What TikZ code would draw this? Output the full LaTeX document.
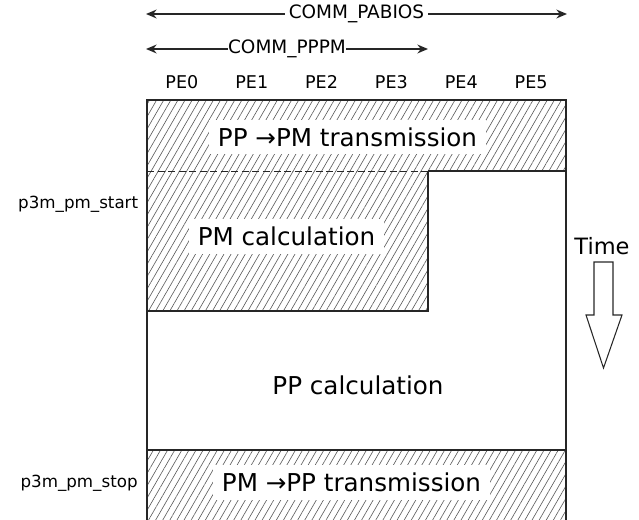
\documentclass[tikz,border=0pt]{standalone}
\usepackage{fontspec}
\setmainfont{DejaVu Sans}
\usetikzlibrary{arrows.meta, patterns.meta}

\begin{document}
\begin{tikzpicture}[
  font=\fontsize{14}{16}\selectfont,
  hatch/.style={
    pattern={Lines[angle=60, distance=3.5pt, line width=0.35pt]},
    pattern color=black!65
  },
  frame/.style={draw=black!85, line width=0.6pt},
  phase/.style={
    fill=white, inner xsep=5pt, inner ysep=4.5pt,
    font=\fontsize{14}{16}\selectfont
  },
  pelabel/.style={font=\fontsize{10}{12}\selectfont},
  commlabel/.style={fill=white, inner xsep=2pt, font=\fontsize{10.5}{12}\selectfont},
  comm/.style={
    arrows={Stealth[length=6pt, width=5pt]-Stealth[length=6pt, width=5pt]},
    line width=1.1pt, draw=black!85
  },
  marker/.style={font=\fontsize{9.5}{11}\selectfont, anchor=east, inner sep=0pt},
]

\useasboundingbox (0,0) rectangle (12.78,10.38);

% hatched phases and the PE frame
\begin{scope}
  \clip (0,0) rectangle (12.78,10.38);
  \fill[hatch] (2.94,6.96) rectangle (11.32,8.38);
  \fill[hatch] (2.94,4.16) rectangle (8.56,6.96);
  \fill[hatch] (2.94,-0.5) rectangle (11.32,1.38);
  \draw[frame] (2.94,-0.5) -- (2.94,8.38) -- (11.32,8.38) -- (11.32,-0.5);
  \draw[frame] (8.56,6.96) -- (11.32,6.96);
  \draw[frame] (8.56,6.96) -- (8.56,4.16) -- (2.94,4.16);
  \draw[frame] (2.94,1.38) -- (11.32,1.38);
  \draw[frame, line width=0.5pt, dash pattern=on 4pt off 2pt] (2.94,6.96) -- (8.56,6.96);
\end{scope}

\node[phase] (pp2pm)  at (6.95, 7.64) {PP →PM transmission};
\node[phase] (pmcalc) at (5.73, 5.65) {PM calculation};
\node (ppcalc)        at (7.16, 2.68) {PP calculation};
\node[phase] (pm2pp)  at (7.03, 0.73) {PM →PP transmission};

% PE columns
\foreach \i in {0,...,5}
  \node[pelabel] (pe\i) at ({2.94+(\i+0.5)*1.3967}, 8.74) {PE\i};

% communicator ranges
\coordinate (pabios-l) at (2.92, 10.10);
\coordinate (pabios-r) at (11.34, 10.10);
\draw[comm] (pabios-l) -- (pabios-r);
\node[commlabel] (pabios) at (7.13, 10.10) {COMM\_PABIOS};

\coordinate (pppm-l) at (2.92, 9.40);
\coordinate (pppm-r) at (8.56, 9.40);
\draw[comm] (pppm-l) -- (pppm-r);
\node[commlabel, inner xsep=0pt] (pppm) at (5.74, 9.40) {COMM\_PPPM};

% timing markers
\node[marker] (pmstart) at (2.77, 6.30) {p3m\_pm\_start};
\node[marker] (pmstop)  at (2.76, 0.72) {p3m\_pm\_stop};

% time arrow
\node[font=\fontsize{12.8}{14}\selectfont] (time) at (12.04, 5.46) {Time};
\draw[draw=black!85, line width=0.6pt]
  (11.88,5.14) -- (12.26,5.14) -- (12.26,4.08) -- (12.44,4.08)
  -- (12.07,3.02) -- (11.72,4.08) -- (11.88,4.08) -- cycle;

\end{tikzpicture}
\end{document}
